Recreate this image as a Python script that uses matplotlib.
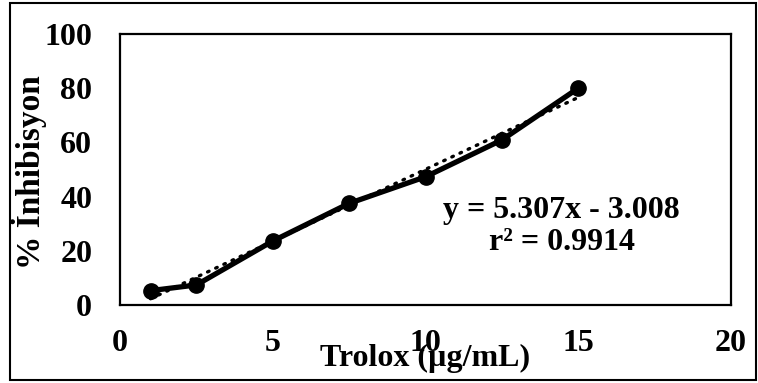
import numpy as np
import matplotlib
matplotlib.use("Agg")
import matplotlib.pyplot as plt
from matplotlib.patches import Rectangle

# data
conc = [1, 2.5, 5, 7.5, 10, 12.5, 15]
inhib = [5.3, 7.4, 23.6, 37.5, 47.3, 60.9, 80.0]
slope, intercept = 5.307, -3.008
r2 = 0.9914
xticks = [0, 5, 10, 15, 20]
yticks = [0, 20, 40, 60, 80, 100]

plt.rcParams['font.family'] = ['Liberation Serif', 'DejaVu Serif']
plt.rcParams['font.weight'] = 'bold'

fig = plt.figure(figsize=(7.58, 3.83), dpi=100)
ax = fig.add_axes([120 / 758, 1 - 305 / 383, 611 / 758, 271 / 383])

# linear trendline (dotted) over the measured range
xfit = np.array([conc[0], conc[-1]])
ax.plot(xfit, slope * xfit + intercept, color='black', lw=2.4, ls=(0, (0.5, 2.2)),
        dash_capstyle='round', zorder=2)
ax.plot(conc, inhib, color='black', lw=3.8, marker='o', ms=11, zorder=3)

ax.set_xlim(0, 20)
ax.set_ylim(0, 100)
ax.set_xticks(xticks)
ax.set_yticks(yticks)
ax.tick_params(length=0, labelsize=23)
ax.tick_params(axis='x', pad=17)
ax.tick_params(axis='y', pad=20)
for lab in ax.get_xticklabels() + ax.get_yticklabels():
    lab.set_fontweight('bold')
for s in ax.spines.values():
    s.set_linewidth(1.6)

ax.set_xlabel('Trolox (µg/mL)', fontsize=23, fontweight='bold')
ax.set_ylabel('% İnhibisyon', fontsize=24, fontweight='bold')
ax.xaxis.set_label_coords(0.5, -0.145)
ax.yaxis.set_label_coords(-0.119, 0.49)

ax.text(0.7226, 0.29, f'y = {slope}x - {abs(intercept):.3f}\nr² = {r2}',
        transform=ax.transAxes, ha='center', va='center', fontsize=23,
        fontweight='bold', linespacing=1.15, multialignment='center')

# outer chart border
fig.patches.append(Rectangle((10 / 758, 3 / 383), 746 / 758, 377 / 383,
                             transform=fig.transFigure, fill=False,
                             edgecolor='black', lw=1.5))

fig.savefig('out.png', dpi=100)
